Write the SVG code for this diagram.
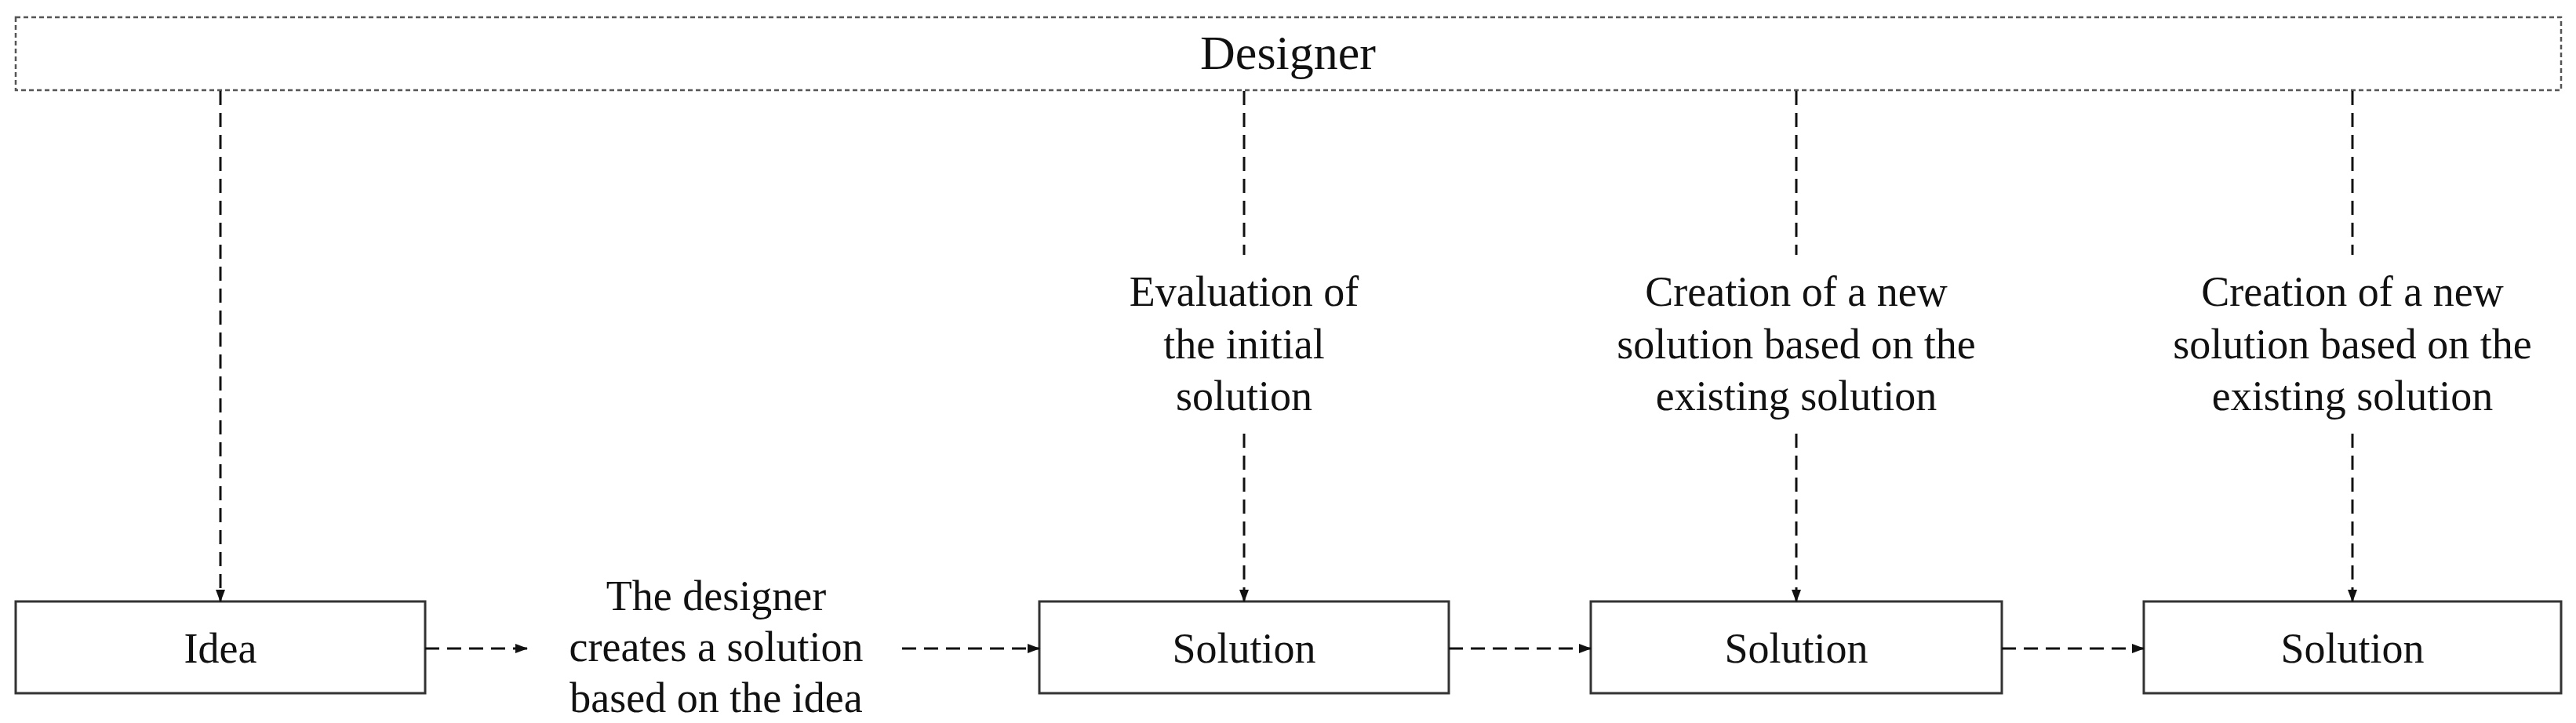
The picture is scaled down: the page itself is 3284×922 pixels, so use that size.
<svg xmlns="http://www.w3.org/2000/svg" width="3284" height="922" viewBox="0 0 3284 922">
<style>
.box{fill:#fff;stroke:#333;stroke-width:3}
.t{font-family:"Liberation Serif",serif;font-size:54px;fill:#111;text-anchor:middle}
.c{stroke:#111;stroke-width:3;stroke-dasharray:18 10;fill:none}
</style>
<defs><marker id="a" markerWidth="16" markerHeight="12" refX="15" refY="6" orient="auto" markerUnits="userSpaceOnUse"><path d="M0,0L16,6L0,12Z" fill="#111"/></marker></defs>
<rect width="3284" height="922" fill="#fff"/>
<g id="designer"><rect x="20" y="22" width="3245" height="93" fill="#fff" stroke="#555" stroke-width="2.5" stroke-dasharray="6 4"/><text class="t" x="1642" y="88" style="font-size:62px">Designer</text></g>
<g id="idea"><rect class="box" x="20" y="767" width="522" height="117"/><text class="t" x="281" y="845">Idea</text></g>
<g id="s1"><rect class="box" x="1325" y="767" width="522" height="117"/><text class="t" x="1586" y="845">Solution</text></g>
<g id="s2"><rect class="box" x="2028" y="767" width="524" height="117"/><text class="t" x="2290" y="845">Solution</text></g>
<g id="s3"><rect class="box" x="2733" y="767" width="532" height="117"/><text class="t" x="2999" y="845">Solution</text></g>
<g id="labels">
<text class="t" x="913" y="778">The designer</text><text class="t" x="913" y="843">creates a solution</text><text class="t" x="913" y="908">based on the idea</text>
<text class="t" x="1586" y="390">Evaluation of</text><text class="t" x="1586" y="457">the initial</text><text class="t" x="1586" y="523">solution</text>
<text class="t" x="2290" y="390">Creation of a new</text><text class="t" x="2290" y="457">solution based on the</text><text class="t" x="2290" y="523">existing solution</text>
<text class="t" x="2999" y="390">Creation of a new</text><text class="t" x="2999" y="457">solution based on the</text><text class="t" x="2999" y="523">existing solution</text>
</g>
<g id="connectors">
<path class="c" d="M281,116V767" marker-end="url(#a)"/>
<path class="c" d="M1586,116V325"/><path class="c" d="M1586,553V767" marker-end="url(#a)"/>
<path class="c" d="M2290,116V325"/><path class="c" d="M2290,553V767" marker-end="url(#a)"/>
<path class="c" d="M2999,116V325"/><path class="c" d="M2999,553V767" marker-end="url(#a)"/>
<path class="c" d="M542,827H672" marker-end="url(#a)"/>
<path class="c" d="M1150,827H1325" marker-end="url(#a)"/>
<path class="c" d="M1847,827H2028" marker-end="url(#a)"/>
<path class="c" d="M2552,827H2733" marker-end="url(#a)"/>
</g>
</svg>
